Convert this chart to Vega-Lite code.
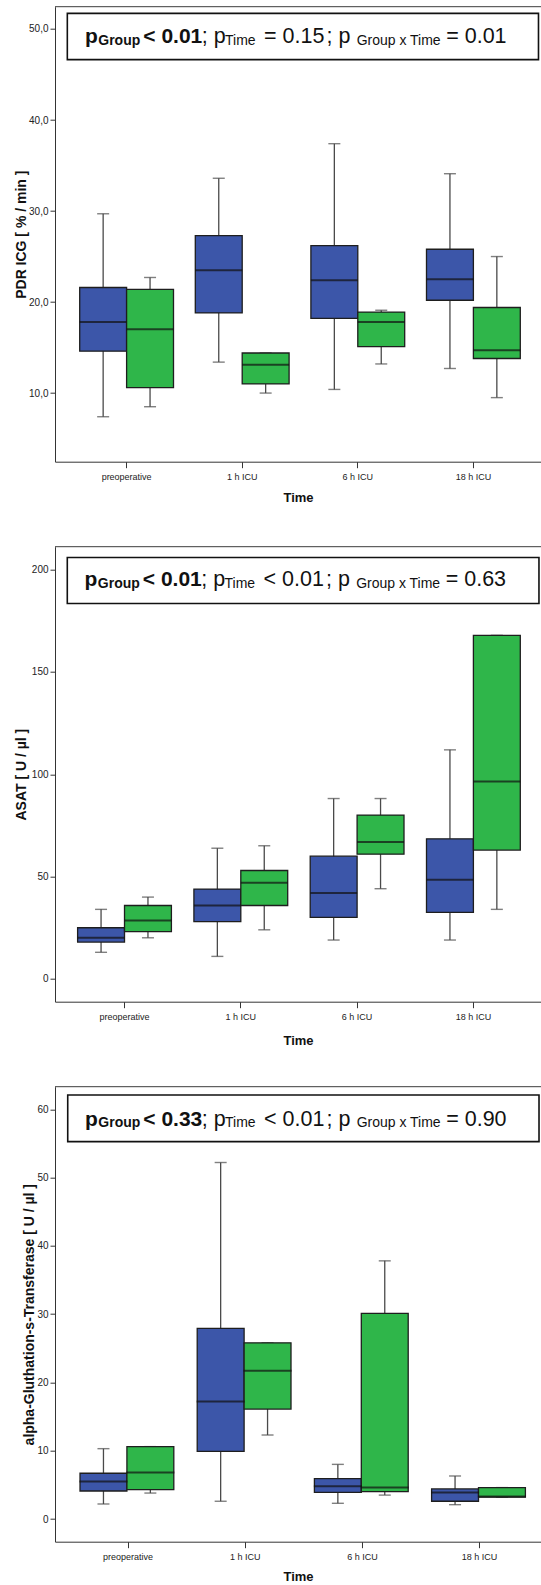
{
  "$schema": "https://vega.github.io/schema/vega-lite/v6.json",
  "autosize": {"type": "pad"},
  "padding": {"left": 14, "top": 5.7, "right": 0, "bottom": 4},
  "spacing": 85,
  "bounds": "flush",
  "config": {
    "view": {"stroke": null},
    "font": "Liberation Sans",
    "axis": {
      "grid": false,
      "labelFont": "Liberation Sans",
      "titleFont": "Liberation Sans",
      "labelColor": "#222",
      "titleColor": "#111",
      "domainColor": "#333",
      "tickColor": "#333",
      "titleFontWeight": "bold"
    },
    "axisX": {"labelAngle": 0, "labelFontSize": 9, "labelPadding": 5, "tickSize": 6, "titleFontSize": 13},
    "axisY": {"labelFontSize": 10, "labelPadding": 2, "tickSize": 5, "titleFontSize": 14}
  },
  "datasets": {
    "pdr": [
      {"time": "preoperative", "group": "1", "lower": 7.4, "q1": 14.6, "median": 17.8, "q3": 21.6, "upper": 29.7},
      {"time": "preoperative", "group": "2", "lower": 8.5, "q1": 10.6, "median": 17.0, "q3": 21.4, "upper": 22.7},
      {"time": "1 h ICU", "group": "1", "lower": 13.4, "q1": 18.8, "median": 23.5, "q3": 27.3, "upper": 33.6},
      {"time": "1 h ICU", "group": "2", "lower": 10.0, "q1": 11.0, "median": 13.1, "q3": 14.4, "upper": 14.4},
      {"time": "6 h ICU", "group": "1", "lower": 10.4, "q1": 18.2, "median": 22.4, "q3": 26.2, "upper": 37.4},
      {"time": "6 h ICU", "group": "2", "lower": 13.2, "q1": 15.1, "median": 17.8, "q3": 18.9, "upper": 19.1},
      {"time": "18 h ICU", "group": "1", "lower": 12.7, "q1": 20.2, "median": 22.5, "q3": 25.8, "upper": 34.1},
      {"time": "18 h ICU", "group": "2", "lower": 9.5, "q1": 13.8, "median": 14.7, "q3": 19.4, "upper": 25.0}
    ],
    "asat": [
      {"time": "preoperative", "group": "1", "lower": 12.9, "q1": 17.9, "median": 20.0, "q3": 24.9, "upper": 33.9},
      {"time": "preoperative", "group": "2", "lower": 20.0, "q1": 23.0, "median": 28.5, "q3": 35.8, "upper": 39.9},
      {"time": "1 h ICU", "group": "1", "lower": 10.9, "q1": 27.9, "median": 35.8, "q3": 43.8, "upper": 63.8},
      {"time": "1 h ICU", "group": "2", "lower": 23.9, "q1": 35.8, "median": 46.9, "q3": 52.9, "upper": 65.0},
      {"time": "6 h ICU", "group": "1", "lower": 18.9, "q1": 30.0, "median": 41.9, "q3": 59.9, "upper": 88.1},
      {"time": "6 h ICU", "group": "2", "lower": 44.0, "q1": 60.9, "median": 66.9, "q3": 80.0, "upper": 88.1},
      {"time": "18 h ICU", "group": "1", "lower": 18.9, "q1": 32.4, "median": 48.4, "q3": 68.4, "upper": 111.9},
      {"time": "18 h ICU", "group": "2", "lower": 33.9, "q1": 62.9, "median": 96.4, "q3": 167.9, "upper": 167.9}
    ],
    "gst": [
      {"time": "preoperative", "group": "1", "lower": 2.2, "q1": 4.1, "median": 5.5, "q3": 6.7, "upper": 10.3},
      {"time": "preoperative", "group": "2", "lower": 3.8, "q1": 4.3, "median": 6.8, "q3": 10.6, "upper": 10.6},
      {"time": "1 h ICU", "group": "1", "lower": 2.6, "q1": 9.9, "median": 17.2, "q3": 27.9, "upper": 52.2},
      {"time": "1 h ICU", "group": "2", "lower": 12.3, "q1": 16.1, "median": 21.7, "q3": 25.8, "upper": 25.8},
      {"time": "6 h ICU", "group": "1", "lower": 2.3, "q1": 3.9, "median": 4.8, "q3": 5.9, "upper": 8.0},
      {"time": "6 h ICU", "group": "2", "lower": 3.5, "q1": 4.0, "median": 4.6, "q3": 30.1, "upper": 37.8},
      {"time": "18 h ICU", "group": "1", "lower": 2.1, "q1": 2.6, "median": 3.9, "q3": 4.4, "upper": 6.3},
      {"time": "18 h ICU", "group": "2", "lower": 3.2, "q1": 3.2, "median": 3.3, "q3": 4.6, "upper": 4.6}
    ],
    "stats_pdr": [{"pGroup": "< 0.01", "pTime": "= 0.15", "pInteraction": "= 0.01"}],
    "stats_asat": [{"pGroup": "< 0.01", "pTime": "< 0.01", "pInteraction": "= 0.63"}],
    "stats_gst": [{"pGroup": "< 0.33", "pTime": "< 0.01", "pInteraction": "= 0.90"}]
  },
  "vconcat": [
    {
      "width": 486,
      "height": 455,
      "layer": [
        {
          "data": {"name": "pdr"},
          "mark": {"type": "rule", "color": "#4a4a4a", "strokeWidth": 1.3},
          "encoding": {
            "x": {"field": "time", "type": "nominal", "scale": {"domain": ["preoperative", "1 h ICU", "6 h ICU", "18 h ICU"], "paddingInner": 0.1886, "paddingOuter": 0.1964, "align": 0.544}, "axis": {"title": "Time", "titlePadding": 9.5}},
            "xOffset": {"field": "group", "type": "nominal", "scale": {"domain": ["1", "2"], "paddingInner": 0, "paddingOuter": 0}},
            "y": {"field": "lower", "type": "quantitative", "scale": {"domain": [2.46, 52.45], "nice": false, "zero": false}, "axis": {"title": "PDR ICG [ % / min ]", "values": [10, 20, 30, 40, 50], "labelExpr": "replace(format(datum.value, '.1f'), '.', ',')", "minExtent": 26, "maxExtent": 26, "titlePadding": 0.5}},
            "y2": {"field": "upper"}
          }
        },
        {
          "data": {"name": "pdr"},
          "mark": {"type": "tick", "color": "#4a4a4a", "size": 12, "thickness": 1.4},
          "encoding": {"x": {"field": "time", "type": "nominal"}, "xOffset": {"field": "group", "type": "nominal"}, "y": {"field": "upper", "type": "quantitative"}}
        },
        {
          "data": {"name": "pdr"},
          "mark": {"type": "tick", "color": "#4a4a4a", "size": 12, "thickness": 1.4},
          "encoding": {"x": {"field": "time", "type": "nominal"}, "xOffset": {"field": "group", "type": "nominal"}, "y": {"field": "lower", "type": "quantitative"}}
        },
        {
          "data": {"name": "pdr"},
          "mark": {"type": "bar", "stroke": "#1e1e1e", "strokeWidth": 1.3, "opacity": 1},
          "encoding": {
            "x": {"field": "time", "type": "nominal"},
            "xOffset": {"field": "group", "type": "nominal"},
            "y": {"field": "q1", "type": "quantitative"},
            "y2": {"field": "q3"},
            "color": {"field": "group", "type": "nominal", "scale": {"domain": ["1", "2"], "range": ["#3c56a9", "#2fb64a"]}, "legend": null}
          }
        },
        {
          "data": {"name": "pdr"},
          "mark": {"type": "tick", "color": "#111", "size": 46.9, "thickness": 2},
          "encoding": {"x": {"field": "time", "type": "nominal"}, "xOffset": {"field": "group", "type": "nominal"}, "y": {"field": "median", "type": "quantitative"}}
        },
        {
          "data": {"name": "stats_pdr"},
          "mark": {"type": "rule", "color": "#3a3a3a", "strokeWidth": 1},
          "encoding": {"y": {"datum": 52.45, "type": "quantitative"}}
        },
        {
          "data": {"name": "stats_pdr"},
          "mark": {"type": "rect", "fill": "white", "stroke": "#111", "strokeWidth": 1.6},
          "encoding": {
            "x": {"datum": "preoperative", "type": "nominal", "bandPosition": -0.132},
            "x2": {"datum": "18 h ICU", "bandPosition": 1.194},
            "y": {"datum": 51.72, "type": "quantitative"},
            "y2": {"datum": 46.63}
          }
        },
        {"data": {"name": "stats_pdr"}, "mark": {"type": "text", "text": "p", "align": "left", "baseline": "alphabetic", "fontSize": 21, "fontWeight": "bold", "color": "#111", "dx": 5.3}, "encoding": {"x": {"datum": "preoperative", "type": "nominal", "bandPosition": 0}, "y": {"datum": 48.43, "type": "quantitative"}}},
        {"data": {"name": "stats_pdr"}, "mark": {"type": "text", "text": "Group", "align": "left", "baseline": "alphabetic", "fontSize": 14, "fontWeight": "bold", "color": "#111", "dx": 18.6}, "encoding": {"x": {"datum": "preoperative", "type": "nominal", "bandPosition": 0}, "y": {"datum": 48.27, "type": "quantitative"}}},
        {"data": {"name": "stats_pdr"}, "mark": {"type": "text", "align": "left", "baseline": "alphabetic", "fontSize": 21, "fontWeight": "bold", "color": "#111", "dx": 63.6}, "encoding": {"x": {"datum": "preoperative", "type": "nominal", "bandPosition": 0}, "y": {"datum": 48.43, "type": "quantitative"}, "text": {"field": "pGroup"}}},
        {"data": {"name": "stats_pdr"}, "mark": {"type": "text", "text": "; p", "align": "left", "baseline": "alphabetic", "fontSize": 21.5, "color": "#111", "dx": 122}, "encoding": {"x": {"datum": "preoperative", "type": "nominal", "bandPosition": 0}, "y": {"datum": 48.43, "type": "quantitative"}}},
        {"data": {"name": "stats_pdr"}, "mark": {"type": "text", "text": "Time", "align": "left", "baseline": "alphabetic", "fontSize": 14, "color": "#111", "dx": 145.3}, "encoding": {"x": {"datum": "preoperative", "type": "nominal", "bandPosition": 0}, "y": {"datum": 48.27, "type": "quantitative"}}},
        {"data": {"name": "stats_pdr"}, "mark": {"type": "text", "align": "left", "baseline": "alphabetic", "fontSize": 21.5, "color": "#111", "dx": 184.3}, "encoding": {"x": {"datum": "preoperative", "type": "nominal", "bandPosition": 0}, "y": {"datum": 48.43, "type": "quantitative"}, "text": {"field": "pTime"}}},
        {"data": {"name": "stats_pdr"}, "mark": {"type": "text", "text": "; p", "align": "left", "baseline": "alphabetic", "fontSize": 21.5, "color": "#111", "dx": 246.8}, "encoding": {"x": {"datum": "preoperative", "type": "nominal", "bandPosition": 0}, "y": {"datum": 48.43, "type": "quantitative"}}},
        {"data": {"name": "stats_pdr"}, "mark": {"type": "text", "text": "Group x Time", "align": "left", "baseline": "alphabetic", "fontSize": 14, "color": "#111", "dx": 277}, "encoding": {"x": {"datum": "preoperative", "type": "nominal", "bandPosition": 0}, "y": {"datum": 48.27, "type": "quantitative"}}},
        {"data": {"name": "stats_pdr"}, "mark": {"type": "text", "align": "left", "baseline": "alphabetic", "fontSize": 21.5, "color": "#111", "dx": 366.5}, "encoding": {"x": {"datum": "preoperative", "type": "nominal", "bandPosition": 0}, "y": {"datum": 48.43, "type": "quantitative"}, "text": {"field": "pInteraction"}}}
      ]
    },
    {
      "width": 486,
      "height": 455,
      "layer": [
        {
          "data": {"name": "asat"},
          "mark": {"type": "rule", "color": "#4a4a4a", "strokeWidth": 1.3},
          "encoding": {
            "x": {"field": "time", "type": "nominal", "scale": {"domain": ["preoperative", "1 h ICU", "6 h ICU", "18 h ICU"], "paddingInner": 0.1935, "paddingOuter": 0.1862, "align": 0.522}, "axis": {"title": "Time", "titlePadding": 12.8}},
            "xOffset": {"field": "group", "type": "nominal", "scale": {"domain": ["1", "2"], "paddingInner": 0, "paddingOuter": 0}},
            "y": {"field": "lower", "type": "quantitative", "scale": {"domain": [-11.25, 211.25], "nice": false, "zero": false}, "axis": {"title": "ASAT [ U / µl ]", "values": [0, 50, 100, 150, 200], "minExtent": 26, "maxExtent": 26, "titlePadding": 0.5}},
            "y2": {"field": "upper"}
          }
        },
        {
          "data": {"name": "asat"},
          "mark": {"type": "tick", "color": "#4a4a4a", "size": 12, "thickness": 1.4},
          "encoding": {"x": {"field": "time", "type": "nominal"}, "xOffset": {"field": "group", "type": "nominal"}, "y": {"field": "upper", "type": "quantitative"}}
        },
        {
          "data": {"name": "asat"},
          "mark": {"type": "tick", "color": "#4a4a4a", "size": 12, "thickness": 1.4},
          "encoding": {"x": {"field": "time", "type": "nominal"}, "xOffset": {"field": "group", "type": "nominal"}, "y": {"field": "lower", "type": "quantitative"}}
        },
        {
          "data": {"name": "asat"},
          "mark": {"type": "bar", "stroke": "#1e1e1e", "strokeWidth": 1.3, "opacity": 1},
          "encoding": {
            "x": {"field": "time", "type": "nominal"},
            "xOffset": {"field": "group", "type": "nominal"},
            "y": {"field": "q1", "type": "quantitative"},
            "y2": {"field": "q3"},
            "color": {"field": "group", "type": "nominal", "scale": {"domain": ["1", "2"], "range": ["#3c56a9", "#2fb64a"]}, "legend": null}
          }
        },
        {
          "data": {"name": "asat"},
          "mark": {"type": "tick", "color": "#111", "size": 46.9, "thickness": 2},
          "encoding": {"x": {"field": "time", "type": "nominal"}, "xOffset": {"field": "group", "type": "nominal"}, "y": {"field": "median", "type": "quantitative"}}
        },
        {
          "data": {"name": "stats_asat"},
          "mark": {"type": "rule", "color": "#3a3a3a", "strokeWidth": 1},
          "encoding": {"y": {"datum": 211.25, "type": "quantitative"}}
        },
        {
          "data": {"name": "stats_asat"},
          "mark": {"type": "rect", "fill": "white", "stroke": "#111", "strokeWidth": 1.6},
          "encoding": {
            "x": {"datum": "preoperative", "type": "nominal", "bandPosition": -0.11},
            "x2": {"datum": "18 h ICU", "bandPosition": 1.199},
            "y": {"datum": 206.0, "type": "quantitative"},
            "y2": {"datum": 183.5}
          }
        },
        {"data": {"name": "stats_asat"}, "mark": {"type": "text", "text": "p", "align": "left", "baseline": "alphabetic", "fontSize": 21, "fontWeight": "bold", "color": "#111", "dx": 6.9}, "encoding": {"x": {"datum": "preoperative", "type": "nominal", "bandPosition": 0}, "y": {"datum": 191.8, "type": "quantitative"}}},
        {"data": {"name": "stats_asat"}, "mark": {"type": "text", "text": "Group", "align": "left", "baseline": "alphabetic", "fontSize": 14, "fontWeight": "bold", "color": "#111", "dx": 20.2}, "encoding": {"x": {"datum": "preoperative", "type": "nominal", "bandPosition": 0}, "y": {"datum": 191.1, "type": "quantitative"}}},
        {"data": {"name": "stats_asat"}, "mark": {"type": "text", "align": "left", "baseline": "alphabetic", "fontSize": 21, "fontWeight": "bold", "color": "#111", "dx": 65.2}, "encoding": {"x": {"datum": "preoperative", "type": "nominal", "bandPosition": 0}, "y": {"datum": 191.8, "type": "quantitative"}, "text": {"field": "pGroup"}}},
        {"data": {"name": "stats_asat"}, "mark": {"type": "text", "text": "; p", "align": "left", "baseline": "alphabetic", "fontSize": 21.5, "color": "#111", "dx": 123.6}, "encoding": {"x": {"datum": "preoperative", "type": "nominal", "bandPosition": 0}, "y": {"datum": 191.8, "type": "quantitative"}}},
        {"data": {"name": "stats_asat"}, "mark": {"type": "text", "text": "Time", "align": "left", "baseline": "alphabetic", "fontSize": 14, "color": "#111", "dx": 146.9}, "encoding": {"x": {"datum": "preoperative", "type": "nominal", "bandPosition": 0}, "y": {"datum": 191.1, "type": "quantitative"}}},
        {"data": {"name": "stats_asat"}, "mark": {"type": "text", "align": "left", "baseline": "alphabetic", "fontSize": 21.5, "color": "#111", "dx": 185.9}, "encoding": {"x": {"datum": "preoperative", "type": "nominal", "bandPosition": 0}, "y": {"datum": 191.8, "type": "quantitative"}, "text": {"field": "pTime"}}},
        {"data": {"name": "stats_asat"}, "mark": {"type": "text", "text": "; p", "align": "left", "baseline": "alphabetic", "fontSize": 21.5, "color": "#111", "dx": 248.4}, "encoding": {"x": {"datum": "preoperative", "type": "nominal", "bandPosition": 0}, "y": {"datum": 191.8, "type": "quantitative"}}},
        {"data": {"name": "stats_asat"}, "mark": {"type": "text", "text": "Group x Time", "align": "left", "baseline": "alphabetic", "fontSize": 14, "color": "#111", "dx": 278.6}, "encoding": {"x": {"datum": "preoperative", "type": "nominal", "bandPosition": 0}, "y": {"datum": 191.1, "type": "quantitative"}}},
        {"data": {"name": "stats_asat"}, "mark": {"type": "text", "align": "left", "baseline": "alphabetic", "fontSize": 21.5, "color": "#111", "dx": 368.1}, "encoding": {"x": {"datum": "preoperative", "type": "nominal", "bandPosition": 0}, "y": {"datum": 191.8, "type": "quantitative"}, "text": {"field": "pInteraction"}}}
      ]
    },
    {
      "width": 486,
      "height": 455,
      "layer": [
        {
          "data": {"name": "gst"},
          "mark": {"type": "rule", "color": "#4a4a4a", "strokeWidth": 1.3},
          "encoding": {
            "x": {"field": "time", "type": "nominal", "scale": {"domain": ["preoperative", "1 h ICU", "6 h ICU", "18 h ICU"], "paddingInner": 0.181, "paddingOuter": 0.1639, "align": 0.651}, "axis": {"title": "Time", "titlePadding": 9}},
            "xOffset": {"field": "group", "type": "nominal", "scale": {"domain": ["1", "2"], "paddingInner": 0, "paddingOuter": 0}},
            "y": {"field": "lower", "type": "quantitative", "scale": {"domain": [-3.32, 63.3], "nice": false, "zero": false}, "axis": {"title": "alpha-Gluthation-s-Transferase [ U / µl ]", "values": [0, 10, 20, 30, 40, 50, 60], "minExtent": 18, "maxExtent": 18, "titlePadding": 0.5}},
            "y2": {"field": "upper"}
          }
        },
        {
          "data": {"name": "gst"},
          "mark": {"type": "tick", "color": "#4a4a4a", "size": 12, "thickness": 1.4},
          "encoding": {"x": {"field": "time", "type": "nominal"}, "xOffset": {"field": "group", "type": "nominal"}, "y": {"field": "upper", "type": "quantitative"}}
        },
        {
          "data": {"name": "gst"},
          "mark": {"type": "tick", "color": "#4a4a4a", "size": 12, "thickness": 1.4},
          "encoding": {"x": {"field": "time", "type": "nominal"}, "xOffset": {"field": "group", "type": "nominal"}, "y": {"field": "lower", "type": "quantitative"}}
        },
        {
          "data": {"name": "gst"},
          "mark": {"type": "bar", "stroke": "#1e1e1e", "strokeWidth": 1.3, "opacity": 1},
          "encoding": {
            "x": {"field": "time", "type": "nominal"},
            "xOffset": {"field": "group", "type": "nominal"},
            "y": {"field": "q1", "type": "quantitative"},
            "y2": {"field": "q3"},
            "color": {"field": "group", "type": "nominal", "scale": {"domain": ["1", "2"], "range": ["#3c56a9", "#2fb64a"]}, "legend": null}
          }
        },
        {
          "data": {"name": "gst"},
          "mark": {"type": "tick", "color": "#111", "size": 48, "thickness": 2},
          "encoding": {"x": {"field": "time", "type": "nominal"}, "xOffset": {"field": "group", "type": "nominal"}, "y": {"field": "median", "type": "quantitative"}}
        },
        {
          "data": {"name": "stats_gst"},
          "mark": {"type": "rule", "color": "#3a3a3a", "strokeWidth": 1},
          "encoding": {"y": {"datum": 63.3, "type": "quantitative"}}
        },
        {
          "data": {"name": "stats_gst"},
          "mark": {"type": "rect", "fill": "white", "stroke": "#111", "strokeWidth": 1.6},
          "encoding": {
            "x": {"datum": "preoperative", "type": "nominal", "bandPosition": -0.128},
            "x2": {"datum": "18 h ICU", "bandPosition": 1.119},
            "y": {"datum": 62.09, "type": "quantitative"},
            "y2": {"datum": 55.26}
          }
        },
        {"data": {"name": "stats_gst"}, "mark": {"type": "text", "text": "p", "align": "left", "baseline": "alphabetic", "fontSize": 21, "fontWeight": "bold", "color": "#111", "dx": 5}, "encoding": {"x": {"datum": "preoperative", "type": "nominal", "bandPosition": 0}, "y": {"datum": 57.55, "type": "quantitative"}}},
        {"data": {"name": "stats_gst"}, "mark": {"type": "text", "text": "Group", "align": "left", "baseline": "alphabetic", "fontSize": 14, "fontWeight": "bold", "color": "#111", "dx": 18.3}, "encoding": {"x": {"datum": "preoperative", "type": "nominal", "bandPosition": 0}, "y": {"datum": 57.36, "type": "quantitative"}}},
        {"data": {"name": "stats_gst"}, "mark": {"type": "text", "align": "left", "baseline": "alphabetic", "fontSize": 21, "fontWeight": "bold", "color": "#111", "dx": 63.3}, "encoding": {"x": {"datum": "preoperative", "type": "nominal", "bandPosition": 0}, "y": {"datum": 57.55, "type": "quantitative"}, "text": {"field": "pGroup"}}},
        {"data": {"name": "stats_gst"}, "mark": {"type": "text", "text": "; p", "align": "left", "baseline": "alphabetic", "fontSize": 21.5, "color": "#111", "dx": 121.7}, "encoding": {"x": {"datum": "preoperative", "type": "nominal", "bandPosition": 0}, "y": {"datum": 57.55, "type": "quantitative"}}},
        {"data": {"name": "stats_gst"}, "mark": {"type": "text", "text": "Time", "align": "left", "baseline": "alphabetic", "fontSize": 14, "color": "#111", "dx": 145}, "encoding": {"x": {"datum": "preoperative", "type": "nominal", "bandPosition": 0}, "y": {"datum": 57.36, "type": "quantitative"}}},
        {"data": {"name": "stats_gst"}, "mark": {"type": "text", "align": "left", "baseline": "alphabetic", "fontSize": 21.5, "color": "#111", "dx": 184}, "encoding": {"x": {"datum": "preoperative", "type": "nominal", "bandPosition": 0}, "y": {"datum": 57.55, "type": "quantitative"}, "text": {"field": "pTime"}}},
        {"data": {"name": "stats_gst"}, "mark": {"type": "text", "text": "; p", "align": "left", "baseline": "alphabetic", "fontSize": 21.5, "color": "#111", "dx": 246.5}, "encoding": {"x": {"datum": "preoperative", "type": "nominal", "bandPosition": 0}, "y": {"datum": 57.55, "type": "quantitative"}}},
        {"data": {"name": "stats_gst"}, "mark": {"type": "text", "text": "Group x Time", "align": "left", "baseline": "alphabetic", "fontSize": 14, "color": "#111", "dx": 276.7}, "encoding": {"x": {"datum": "preoperative", "type": "nominal", "bandPosition": 0}, "y": {"datum": 57.36, "type": "quantitative"}}},
        {"data": {"name": "stats_gst"}, "mark": {"type": "text", "align": "left", "baseline": "alphabetic", "fontSize": 21.5, "color": "#111", "dx": 366.2}, "encoding": {"x": {"datum": "preoperative", "type": "nominal", "bandPosition": 0}, "y": {"datum": 57.55, "type": "quantitative"}, "text": {"field": "pInteraction"}}}
      ]
    }
  ]
}
